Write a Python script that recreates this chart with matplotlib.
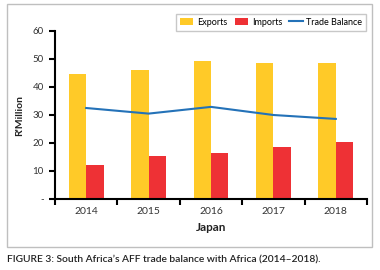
import matplotlib
matplotlib.use("Agg")
import matplotlib.pyplot as plt
import matplotlib.patches as patches
import numpy as np

plt.rcParams['font.family'] = ['Lato', 'DejaVu Sans']

# data
years = ['2014', '2015', '2016', '2017', '2018']
exports = [44.6, 46.0, 49.3, 48.6, 48.6]
imports = [12.1, 15.4, 16.4, 18.6, 20.5]
trade_balance = [32.5, 30.5, 32.9, 30.0, 28.6]
y_ticks = [0, 10, 20, 30, 40, 50, 60]
y_tick_labels = ['-', '10', '20', '30', '40', '50', '60']

c_exp = '#FFCA28'
c_imp = '#EE3135'
c_bal = '#2472B8'

fig = plt.figure(figsize=(3.8, 2.7), dpi=100)
ax = fig.add_axes([55/380, 1 - 199/270, 312/380, 168/270])

x = np.arange(len(years))
w = 0.28
b1 = ax.bar(x - w/2, exports, width=w, color=c_exp, label='Exports')
b2 = ax.bar(x + w/2, imports, width=w, color=c_imp, label='Imports')
l1, = ax.plot(x, trade_balance, color=c_bal, lw=1.5, label='Trade Balance')

ax.set_xlim(-0.5, len(years) - 0.5)
ax.set_ylim(0, 60)
ax.set_yticks(y_ticks)
ax.set_yticklabels(y_tick_labels, fontsize=7, color='#333333')

# boundary ticks (major) and centred labels (minor)
ax.set_xticks(np.arange(len(years) + 1) - 0.5)
ax.set_xticklabels([])
ax.set_xticks(x, minor=True)
ax.set_xticklabels(years, minor=True, fontsize=7.5, color='#333333')
ax.tick_params(axis='x', which='minor', length=0, pad=6)
ax.tick_params(axis='x', which='major', length=4, width=1.5, direction='out')
ax.tick_params(axis='y', length=4, width=1.5, direction='out', pad=4)

for s in ['top', 'right']:
    ax.spines[s].set_visible(False)
for s in ['left', 'bottom']:
    ax.spines[s].set_linewidth(1.5)

ax.set_xlabel('Japan', fontsize=8.5, fontweight='bold', labelpad=4, color='#222222')
ax.set_ylabel("R'Million", fontsize=7.5, fontweight='bold', labelpad=6, color='#222222')

fig.legend(handles=[b1, b2, l1], loc='upper right', bbox_to_anchor=(371/380, 1 - 9/270),
           ncol=3, fontsize=6.5, frameon=True, fancybox=False, edgecolor='#BBBBBB',
           handlelength=1.5, handleheight=0.9, columnspacing=0.8,
           borderpad=0.45, handletextpad=0.4)

fig.patches.append(patches.Rectangle((7/380, 1 - 247/270), 365/380, 243/270,
                                     transform=fig.transFigure, fill=False,
                                     edgecolor='#BFBFBF', lw=1))

fig.text(7/380, 1 - 260/270,
         "FIGURE 3: South Africa\u2019s AFF trade balance with Africa (2014\u20132018).",
         fontsize=7.4, fontweight='semibold', va='center', ha='left', color='#222222')

fig.savefig('out.png', dpi=100)
